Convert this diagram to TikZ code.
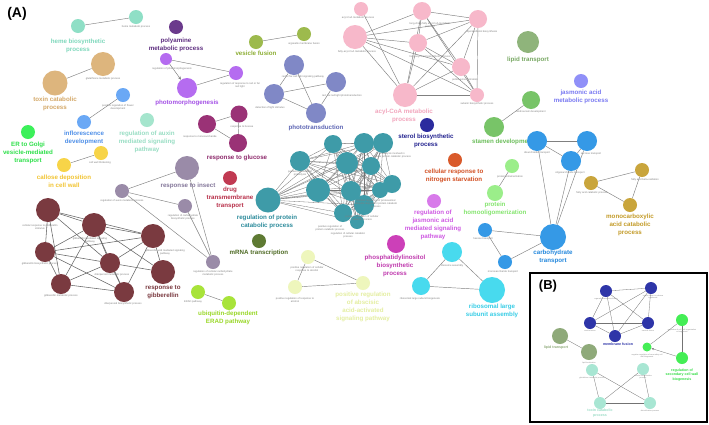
\documentclass[tikz,border=0pt]{standalone}
\usepackage{fontspec}
\setmainfont{Liberation Sans}
\usetikzlibrary{arrows.meta}
\pgfdeclarelayer{bg}\pgfdeclarelayer{edges}\pgfsetlayers{bg,edges,main}
\definecolor{mintN}{HTML}{8FDFC6}\definecolor{mintL}{HTML}{7FD8BC}
\definecolor{polyN}{HTML}{6B3A8C}\definecolor{polyL}{HTML}{5E2E80}
\definecolor{tanN}{HTML}{DDB57D}\definecolor{tanL}{HTML}{D4A868}
\definecolor{flowN}{HTML}{6AA8F5}\definecolor{flowL}{HTML}{4E8FE8}
\definecolor{auxN}{HTML}{A5E5CD}\definecolor{auxL}{HTML}{99DEC4}
\definecolor{erN}{HTML}{3CF05A}\definecolor{erL}{HTML}{2EE04A}
\definecolor{yelN}{HTML}{F7D448}\definecolor{yelL}{HTML}{F2C431}
\definecolor{lilN}{HTML}{B56CF0}\definecolor{lilL}{HTML}{A451E6}
\definecolor{oliN}{HTML}{9DBA4D}\definecolor{oliL}{HTML}{8DAE35}
\definecolor{slaN}{HTML}{8088C6}\definecolor{slaL}{HTML}{5F67B5}
\definecolor{pinkN}{HTML}{F7B8CA}\definecolor{pinkL}{HTML}{F2A6BD}
\definecolor{lipN}{HTML}{8FB47B}\definecolor{lipL}{HTML}{78A863}
\definecolor{jasN}{HTML}{9090F8}\definecolor{jasL}{HTML}{7A7AF2}
\definecolor{staN}{HTML}{78C468}\definecolor{staL}{HTML}{6CBE5B}
\definecolor{steN}{HTML}{2B2B9E}\definecolor{steL}{HTML}{22228F}
\definecolor{nitN}{HTML}{D95A2B}\definecolor{nitL}{HTML}{D24F22}
\definecolor{phoN}{HTML}{9BEE8A}\definecolor{phoL}{HTML}{85E56F}
\definecolor{bluN}{HTML}{3599E6}\definecolor{bluL}{HTML}{2488DD}
\definecolor{golN}{HTML}{C9A53C}\definecolor{golL}{HTML}{C39B28}
\definecolor{cyaN}{HTML}{48DAEE}\definecolor{cyaL}{HTML}{38CDE6}
\definecolor{magN}{HTML}{CC40B8}\definecolor{magL}{HTML}{C03AAE}
\definecolor{jmgN}{HTML}{D87AEA}\definecolor{jmgL}{HTML}{CF5AE3}
\definecolor{teaN}{HTML}{3E9BA8}\definecolor{teaL}{HTML}{2E8C9C}
\definecolor{mrnN}{HTML}{5E7A33}\definecolor{mrnL}{HTML}{4F6B25}
\definecolor{druN}{HTML}{C13A52}\definecolor{druL}{HTML}{B8304A}
\definecolor{gluN}{HTML}{9A3276}\definecolor{gluL}{HTML}{8E2A6C}
\definecolor{insN}{HTML}{9A8BA8}\definecolor{insL}{HTML}{84779A}
\definecolor{marN}{HTML}{7A3A40}\definecolor{marL}{HTML}{7A3A40}
\definecolor{absN}{HTML}{EEF6BC}\definecolor{absL}{HTML}{E4EEA0}
\definecolor{eraN}{HTML}{A8E33A}\definecolor{eraL}{HTML}{9AD829}
\definecolor{navN}{HTML}{2E35A8}\definecolor{grbN}{HTML}{44EE55}\definecolor{grbL}{HTML}{33DD44}
\definecolor{lpbN}{HTML}{8FAA7A}\definecolor{tbN}{HTML}{A8E6D3}\definecolor{tbL}{HTML}{9ADCC6}
\tikzset{
  nd/.style 2 args={circle,fill=#1,minimum size=#2,inner sep=0pt,draw=none},
  bl/.style={font=\bfseries\fontsize{6.2}{7.8}\selectfont,align=center,text=#1,inner sep=0pt},
  bls/.style={font=\bfseries\fontsize{3.6}{4.4}\selectfont,align=center,text=#1,inner sep=0pt},
  sl/.style={font=\fontsize{2.6}{3}\selectfont,align=center,text=black!50,inner sep=0pt},
  sls/.style={font=\fontsize{1.9}{2.3}\selectfont,align=center,text=black!45,inner sep=0pt},
  ed/.style={draw=black!50,line width=0.45pt},
  edm/.style={draw=black!60,line width=0.55pt},
  edt/.style={draw=black!55,line width=0.3pt},
}
\begin{document}
\begin{tikzpicture}[x=1pt,y=-1pt]
\begin{pgfonlayer}{bg}
\fill[white] (0,0) rectangle (709,424);
\end{pgfonlayer}
\useasboundingbox (0,0) rectangle (709,424);
\node[font=\bfseries\fontsize{14}{14}\selectfont] (labA) at (17,14) {(A)};
% heme
\node[nd={mintN}{14pt}] (h1) at (78,26) {};
\node[nd={mintN}{14pt}] (h2) at (136,17) {};
\node[bl=mintL] (h1l) at (78,45.5) {heme biosynthetic\\process};
\node[sl] (h2l) at (136,26.5) {heme metabolic process};
% polyamine
\node[nd={polyN}{14pt}] (po) at (176,27) {};
\node[bl=polyL] (pol) at (176,45) {polyamine\\metabolic process};
% toxin
\node[nd={tanN}{24pt}] (tx1) at (103,64) {};
\node[nd={tanN}{25pt}] (tx2) at (55,83) {};
\node[sl] (tx1l) at (103,79) {glutathione metabolic process};
\node[bl=tanL] (tx2l) at (55,104) {toxin catabolic\\process};
% inflorescence
\node[nd={flowN}{14pt}] (fl1) at (123,95) {};
\node[nd={flowN}{14pt}] (fl2) at (84,122) {};
\node[sl] (fl1l) at (118,107) {positive regulation of flower\\development};
\node[bl=flowL] (fl2l) at (84,138) {inflorescence\\development};
% auxin signalling
\node[nd={auxN}{14pt}] (ax) at (147,120) {};
\node[bl=auxL] (axl) at (147,142) {regulation of auxin\\mediated signaling\\pathway};
% ER to Golgi
\node[nd={erN}{14pt}] (er) at (28,132) {};
\node[bl=erL] (erl) at (28,153) {ER to Golgi\\vesicle-mediated\\transport};
% callose
\node[nd={yelN}{14pt}] (ca1) at (101,153) {};
\node[nd={yelN}{14pt}] (ca2) at (64,165) {};
\node[sl] (ca1l) at (100,163) {cell wall thickening};
\node[bl=yelL] (ca2l) at (64,181) {callose deposition\\in cell wall};
% photomorphogenesis
\node[nd={lilN}{12pt}] (p1) at (166,59) {};
\node[nd={lilN}{14pt}] (p2) at (236,73) {};
\node[nd={lilN}{20pt}] (p3) at (187,88) {};
\node[sl] (p1l) at (172,69) {regulation of photomorphogenesis};
\node[sl] (p2l) at (240,85) {regulation of response to red or far\\red light};
\node[bl=lilL] (p3l) at (187,103) {photomorphogenesis};
% vesicle fusion
\node[nd={oliN}{14pt}] (v1) at (256,42) {};
\node[nd={oliN}{14pt}] (v2) at (304,34) {};
\node[bl=oliL] (v1l) at (256,53.5) {vesicle fusion};
\node[sl] (v2l) at (304,44) {organelle membrane fusion};
% phototransduction
\node[nd={slaN}{20pt}] (ph1) at (294,65) {};
\node[nd={slaN}{20pt}] (ph2) at (336,82) {};
\node[nd={slaN}{20pt}] (ph3) at (274,94) {};
\node[nd={slaN}{20pt}] (ph4) at (316,113) {};
\node[sl] (ph1l) at (303,77) {red or far-red light signaling pathway};
\node[sl] (ph2l) at (342,96) {red, far-red light phototransduction};
\node[sl] (ph3l) at (270,108) {detection of light stimulus};
\node[bl=slaL] (ph4l) at (316,127.5) {phototransduction};
% acyl-CoA
\node[nd={pinkN}{14pt}] (a1) at (361,9) {};
\node[nd={pinkN}{18pt}] (a2) at (422,11) {};
\node[nd={pinkN}{18pt}] (a3) at (478,19) {};
\node[nd={pinkN}{24pt}] (a4) at (355,37) {};
\node[nd={pinkN}{18pt}] (a5) at (418,43) {};
\node[nd={pinkN}{18pt}] (a6) at (461,67) {};
\node[nd={pinkN}{24pt}] (a7) at (405,95) {};
\node[nd={pinkN}{14pt}] (a8) at (477,95) {};
\node[sl] (a1l) at (358,18) {acyl-CoA metabolic process};
\node[sl] (a2l) at (430,25) {long-chain fatty acyl-CoA metabolic\\process};
\node[sl] (a3l) at (482,32) {sporopollenin biosynthesis};
\node[sl] (a4l) at (357,52) {fatty-acyl-CoA metabolic process};
\node[sl] (a5l) at (430,57) {fatty-acyl-CoA biosynthetic process};
\node[sl] (a6l) at (465,80) {pollen exine formation};
\node[sl] (a8l) at (477,104) {suberin biosynthetic process};
\node[bl=pinkL] (a7l) at (404,116) {acyl-CoA metabolic\\process};
% lipid transport, jasmonic
\node[nd={lipN}{22pt}] (lp) at (528,42) {};
\node[bl=lipL] (lpl) at (528,60) {lipid transport};
\node[nd={jasN}{14pt}] (ja) at (581,81) {};
\node[bl=jasL] (jal) at (581,97) {jasmonic acid\\metabolic process};
% stamen
\node[nd={staN}{20pt}] (st1) at (494,127) {};
\node[nd={staN}{18pt}] (st2) at (531,100) {};
\node[sl] (st2l) at (531,112) {androecium development};
\node[bl=staL] (st1l) at (503,142) {stamen development};
% sterol, nitrogen
\node[nd={steN}{14pt}] (sr) at (427,125) {};
\node[bl=steL] (srl) at (426,141) {sterol biosynthetic\\process};
\node[nd={nitN}{14pt}] (ni) at (455,160) {};
\node[bl=nitL] (nil) at (454,176) {cellular response to\\nitrogen starvation};
% protein homooligomerization
\node[nd={phoN}{14pt}] (ho1) at (512,166) {};
\node[nd={phoN}{16pt}] (ho2) at (495,193) {};
\node[sl] (ho1l) at (510,177) {protein tetramerization};
\node[bl=phoL] (ho2l) at (495,209) {protein\\homooligomerization};
% carbohydrate transport
\node[nd={bluN}{20pt}] (c1) at (537,141) {};
\node[nd={bluN}{20pt}] (c2) at (587,141) {};
\node[nd={bluN}{20pt}] (c3) at (571,161) {};
\node[nd={bluN}{26pt}] (c4) at (553,237) {};
\node[nd={bluN}{14pt}] (c5) at (485,230) {};
\node[nd={bluN}{14pt}] (c6) at (505,262) {};
\node[sl] (c1l) at (537,153) {disaccharide transport};
\node[sl] (c2l) at (591,154) {sucrose transport};
\node[sl] (c3l) at (570,173) {oligosaccharide transport};
\node[sl] (c5l) at (483,239) {hexose transport};
\node[sl] (c6l) at (503,272) {monosaccharide transport};
\node[bl=bluL] (c4l) at (553,257) {carbohydrate\\transport};
% monocarboxylic
\node[nd={golN}{14pt}] (go1) at (591,183) {};
\node[nd={golN}{14pt}] (go2) at (642,170) {};
\node[nd={golN}{14pt}] (go3) at (630,205) {};
\node[sl] (go2l) at (645,180) {fatty acid beta-oxidation};
\node[sl] (go1l) at (592,193) {fatty acid catabolic process};
\node[bl=golL] (go3l) at (630,225) {monocarboxylic\\acid catabolic\\process};
% jasmonic regulation, phosphatidylinositol
\node[nd={jmgN}{14pt}] (jr) at (434,201) {};
\node[bl=jmgL] (jrl) at (433,225) {regulation of\\jasmonic acid\\mediated signaling\\pathway};
\node[nd={magN}{18pt}] (pi) at (396,244) {};
\node[bl=magL] (pil) at (395,266) {phosphatidylinositol\\biosynthetic\\process};
% ribosome
\node[nd={cyaN}{20pt}] (r1) at (452,252) {};
\node[nd={cyaN}{18pt}] (r2) at (421,286) {};
\node[nd={cyaN}{26pt}] (r3) at (492,290) {};
\node[sl] (r1l) at (452,266) {ribosome assembly};
\node[sl] (r2l) at (420,299) {ribosomal large subunit biogenesis};
\node[bl=cyaL] (r3l) at (492,311) {ribosomal large\\subunit assembly};
% glucose
\node[nd={gluN}{17pt}] (g1) at (239,114) {};
\node[nd={gluN}{18pt}] (g2) at (207,124) {};
\node[nd={gluN}{18pt}] (g3) at (238,143) {};
\node[sl] (g1l) at (242,127) {response to hexose};
\node[sl] (g2l) at (200,137) {response to monosaccharide};
\node[bl=gluL] (g3l) at (237,158) {response to glucose};
% drug
\node[nd={druN}{14pt}] (dr) at (230,178) {};
\node[bl=druL] (drl) at (230,198) {drug\\transmembrane\\transport};
% insect
\node[nd={insN}{24pt}] (i1) at (187,168) {};
\node[nd={insN}{14pt}] (i2) at (122,191) {};
\node[nd={insN}{14pt}] (i3) at (185,206) {};
\node[nd={insN}{14pt}] (i4) at (213,262) {};
\node[bl=insL] (i1l) at (188,186) {response to insect};
\node[sl] (i2l) at (122,201) {regulation of auxin metabolic process};
\node[sl] (i3l) at (183,217) {regulation of carbohydrate\\biosynthetic process};
\node[sl] (i4l) at (213,273) {regulation of cellular carbohydrate\\metabolic process};
% gibberellin
\node[nd={marN}{24pt}] (m1) at (48,210) {};
\node[nd={marN}{24pt}] (m2) at (94,225) {};
\node[nd={marN}{24pt}] (m3) at (153,236) {};
\node[nd={marN}{20pt}] (m4) at (45,252) {};
\node[nd={marN}{20pt}] (m5) at (110,263) {};
\node[nd={marN}{24pt}] (m6) at (163,272) {};
\node[nd={marN}{20pt}] (m7) at (61,284) {};
\node[nd={marN}{20pt}] (m8) at (124,292) {};
\node[sl] (m1l) at (40,227) {cellular response to gibberellin\\stimulus};
\node[sl] (m2l) at (90,240) {gibberellin mediated signaling\\pathway};
\node[sl] (m3l) at (165,252) {gibberellic acid mediated signaling\\pathway};
\node[sl] (m4l) at (40,264) {gibberellin biosynthetic process};
\node[sl] (m5l) at (112,275) {diterpenoid metabolic process};
\node[sl] (m7l) at (61,296) {gibberellin metabolic process};
\node[sl] (m8l) at (123,304) {diterpenoid biosynthetic process};
\node[bl=marL] (m6l) at (163,292) {response to\\gibberellin};
% protein catabolic (teal)
\node[nd={teaN}{25pt}] (t1) at (268,200) {};
\node[nd={teaN}{20pt}] (t2) at (300,161) {};
\node[nd={teaN}{18pt}] (t3) at (333,144) {};
\node[nd={teaN}{20pt}] (t4) at (364,143) {};
\node[nd={teaN}{20pt}] (t5) at (383,143) {};
\node[nd={teaN}{22pt}] (t6) at (347,163) {};
\node[nd={teaN}{18pt}] (t7) at (371,166) {};
\node[nd={teaN}{24pt}] (t8) at (318,190) {};
\node[nd={teaN}{20pt}] (t9) at (351,191) {};
\node[nd={teaN}{18pt}] (t10) at (392,184) {};
\node[nd={teaN}{18pt}] (t11) at (343,213) {};
\node[nd={teaN}{20pt}] (t12) at (364,205) {};
\node[nd={teaN}{14pt}] (t13) at (357,222) {};
\node[nd={teaN}{16pt}] (t14) at (380,190) {};
\node[sl] (t2l) at (300,173) {positive regulation of\\proteolysis};
\node[sl] (t5l) at (392,155) {proteolysis involved in\\cellular protein catabolic process};
\node[sl] (t12l) at (376,204) {positive regulation of proteasomal\\ubiquitin-dependent protein catabolic\\process};
\node[sl] (t13l) at (362,218) {positive regulation of cellular\\catabolic process};
\node[sl] (t11l) at (348,235) {regulation of cellular catabolic\\process};
\node[sl] (t8l) at (330,228) {positive regulation of\\protein catabolic process};
\node[bl=teaL] (t1l) at (267,222) {regulation of protein\\catabolic process};
% mRNA
\node[nd={mrnN}{14pt}] (mr) at (259,241) {};
\node[bl=mrnL] (mrl) at (259,253) {mRNA transcription};
% abscisic
\node[nd={absN}{14pt}] (ab1) at (308,257) {};
\node[nd={absN}{14pt}] (ab2) at (295,287) {};
\node[nd={absN}{14pt}] (ab3) at (363,283) {};
\node[sl] (ab1l) at (307,269.5) {positive regulation of cellular\\response to alcohol};
\node[sl] (ab2l) at (295,300) {positive regulation of response to\\alcohol};
\node[bl=absL] (ab3l) at (363,307) {positive regulation\\of abscisic\\acid-activated\\signaling pathway};
% ERAD
\node[nd={eraN}{14pt}] (e1) at (198,292) {};
\node[nd={eraN}{14pt}] (e2) at (229,303) {};
\node[sl] (e1l) at (193,302) {ERAD pathway};
\node[bl=eraL] (e2l) at (228,318) {ubiquitin-dependent\\ERAD pathway};
% panel B
\draw[line width=1.3pt] (530,273) rectangle (707,422);
\node[font=\bfseries\fontsize{13}{13}\selectfont] (labB) at (548,286) {(B)};
\node[nd={navN}{12pt}] (b1) at (606,291) {};
\node[nd={navN}{12pt}] (b2) at (651,288) {};
\node[nd={navN}{12pt}] (b3) at (590,323) {};
\node[nd={navN}{12pt}] (b4) at (648,323) {};
\node[nd={navN}{12pt}] (b5) at (615,336) {};
\node[sls] (b1l) at (606,299) {organelle membrane fusion};
\node[sls] (b2l) at (653,297) {vesicle fusion to plasma\\membrane};
\node[sls] (b3l) at (590,331) {vesicle fusion};
\node[sls] (b4l) at (648,331) {vacuole fusion};
\node[bls=navN] (b5l) at (618,344) {membrane fusion};
\node[nd={lpbN}{16pt}] (lb1) at (560,336) {};
\node[nd={lpbN}{16pt}] (lb2) at (589,352) {};
\node[bls=lpbN] (lb1l) at (556,348) {lipid transport};
\node[sls] (lb2l) at (589,363) {lipid localization};
\node[nd={grbN}{12pt}] (gb1) at (682,320) {};
\node[nd={grbN}{9pt}] (gb2) at (647,347) {};
\node[nd={grbN}{12pt}] (gb3) at (682,358) {};
\node[sls] (gb1l) at (682,331) {regulation of cell wall organization\\or biogenesis};
\node[sls] (gb2l) at (647,356) {negative regulation of secondary cell\\wall biogenesis};
\node[bls=grbL] (gb3l) at (682,375) {regulation of\\secondary cell wall\\biogenesis};
\node[nd={tbN}{12pt}] (tb1) at (592,370) {};
\node[nd={tbN}{12pt}] (tb2) at (643,369) {};
\node[nd={tbN}{12pt}] (tb3) at (600,403) {};
\node[nd={tbN}{12pt}] (tb4) at (650,403) {};
\node[sls] (tb1l) at (592,378) {glutathione metabolic process};
\node[sls] (tb2l) at (643,377) {cellular detoxification\\process};
\node[sls] (tb4l) at (650,411) {detoxification process};
\node[bls=tbL] (tb3l) at (600,413) {toxin catabolic\\process};
% ---------- connectors ----------
\begin{pgfonlayer}{edges}
\draw[ed] (h1) -- (h2);
\draw[ed] (tx1) -- (tx2);
\draw[ed] (fl1) -- (fl2);
\draw[ed] (ca1) -- (ca2);
\draw[ed] (p1) -- (p2);
\draw[ed] (p3) -- (p2);
\draw[ed,-{Stealth[length=3.5pt,width=3pt]}] (p1) -- (p3);
\draw[ed] (v1) -- (v2);
\draw[ed] (ph1) -- (ph3); \draw[ed] (ph1) -- (ph4); \draw[ed] (ph3) -- (ph2);
\draw[ed] (ph3) -- (ph4); \draw[ed] (ph2) -- (ph4);
\draw[ed] (a1) -- (a7);
\foreach \i in {2,...,8}{\foreach \j in {2,...,8}{\ifnum\j>\i \draw[ed] (a\i) -- (a\j);\fi}}
\draw[ed] (st1) -- (st2);
\draw[ed] (ho1) -- (ho2);
\draw[ed] (c1) -- (c2); \draw[ed] (c1) -- (c3); \draw[ed] (c2) -- (c3);
\draw[ed] (c1) -- (c4); \draw[ed] (c3) -- (c4); \draw[ed] (c2) -- (c4);
\draw[ed] (c5) -- (c4); \draw[ed] (c6) -- (c4); \draw[ed] (c5) -- (c6);
\draw[ed] (go1) -- (go2); \draw[ed] (go2) -- (go3); \draw[ed] (go1) -- (go3);
\draw[ed] (r1) -- (r2); \draw[ed] (r1) -- (r3); \draw[ed] (r2) -- (r3);
\draw[ed] (g1) -- (g2); \draw[ed] (g2) -- (g3); \draw[ed] (g1) -- (g3);
\draw[ed] (i1) -- (i2); \draw[ed] (i2) -- (i3); \draw[ed] (i2) -- (i4);
\draw[ed] (i1) -- (i4); \draw[ed] (i3) -- (i4);
\foreach \u/\v in {1/2,1/3,1/4,1/5,1/7,2/3,2/4,2/5,2/6,2/7,2/8,3/4,3/5,3/6,3/8,4/5,4/7,4/8,5/7,5/8,5/6,7/8}
  {\draw[edm] (m\u) -- (m\v);}
\foreach \i in {1,...,14}{\foreach \j in {1,...,14}{\ifnum\j>\i \draw[edt] (t\i) -- (t\j);\fi}}
\draw[ed] (ab1) -- (ab2); \draw[ed] (ab2) -- (ab3); \draw[ed] (ab1) -- (ab3);
\draw[ed] (e1) -- (e2);
\foreach \i in {1,...,5}{\foreach \j in {1,...,5}{\ifnum\j>\i \draw[edt] (b\i) -- (b\j);\fi}}
\draw[edt] (lb1) -- (lb2);
\draw[edt] (gb1) -- (gb3); \draw[edt] (gb1) -- (gb2);
\draw[edt,-{Stealth[length=2.5pt,width=2pt]}] (gb3) -- (gb2);
\draw[edt] (tb1) -- (tb3); \draw[edt] (tb1) -- (tb4); \draw[edt] (tb2) -- (tb3);
\draw[edt] (tb2) -- (tb4); \draw[edt] (tb3) -- (tb4);
\end{pgfonlayer}
\end{tikzpicture}
\end{document}
